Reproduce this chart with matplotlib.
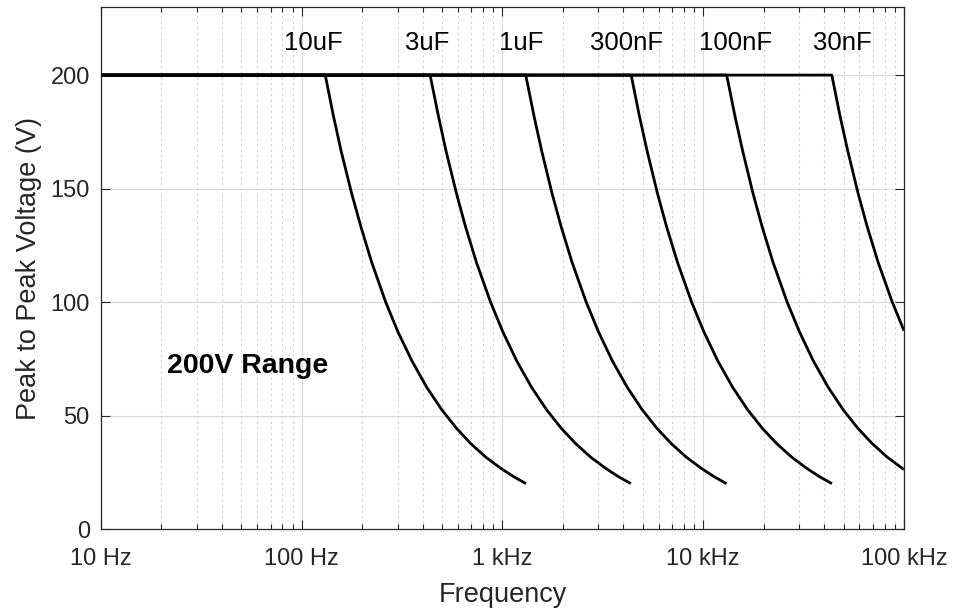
import matplotlib
matplotlib.use('Agg')
import matplotlib.pyplot as plt
from matplotlib.ticker import LogLocator, NullFormatter, FixedLocator

# values (frequency in Hz, peak-to-peak volts)
labels = ['10uF', '3uF', '1uF', '300nF', '100nF', '30nF']

f_10uF = [10, 131, 144, 157, 177, 197, 223, 262, 301, 354, 419, 498, 590, 694, 825, 983, 1140, 1310]
v_10uF = [200, 200, 181.8, 166.7, 148.1, 133.3, 117.6, 100, 87, 74.1, 62.5, 52.6, 44.4, 37.7, 31.7, 26.7, 23, 20]

f_3uF = [10, 436, 480, 523, 589, 654, 741, 872, 1003, 1177, 1395, 1657, 1962, 2311, 2747, 3270, 3793, 4360]
v_3uF = [200, 200, 181.8, 166.7, 148.1, 133.3, 117.6, 100, 87, 74.1, 62.5, 52.6, 44.4, 37.7, 31.7, 26.7, 23, 20]

f_1uF = [10, 1306, 1437, 1567, 1763, 1959, 2220, 2612, 3004, 3526, 4179, 4963, 5877, 6922, 8228, 9795, 11362, 13060]
v_1uF = [200, 200, 181.8, 166.7, 148.1, 133.3, 117.6, 100, 87, 74.1, 62.5, 52.6, 44.4, 37.7, 31.7, 26.7, 23, 20]

f_300nF = [10, 4375, 4813, 5250, 5906, 6563, 7438, 8750, 10063, 11813, 14000, 16625, 19688, 23188, 27563, 32813, 38063, 43750]
v_300nF = [200, 200, 181.8, 166.7, 148.1, 133.3, 117.6, 100, 87, 74.1, 62.5, 52.6, 44.4, 37.7, 31.7, 26.7, 23, 20]

f_100nF = [10, 13090, 14400, 15708, 17672, 19635, 22253, 26180, 30107, 35343, 41888, 49742, 58905, 69377, 82467, 98175, 100000]
v_100nF = [200, 200, 181.8, 166.7, 148.1, 133.3, 117.6, 100, 87, 74.1, 62.5, 52.6, 44.4, 37.7, 31.7, 26.7, 26.2]

f_30nF = [10, 43700, 48070, 52440, 58995, 65550, 74290, 87400, 100000]
v_30nF = [200, 200, 181.8, 166.7, 148.1, 133.3, 117.6, 100, 87.4]

# where the capacitor names sit (Hz)
label_freqs = [114, 424, 1233, 4160, 14500, 49400]

x_ticks = [10, 100, 1000, 10000, 100000]
x_tick_labels = ['10 Hz', '100 Hz', '1 kHz', '10 kHz', '100 kHz']
y_ticks = [0, 50, 100, 150, 200]

plt.rcParams['font.family'] = ['Liberation Sans', 'DejaVu Sans']

dark = '#262626'

fig = plt.figure(figsize=(9.57, 6.14), dpi=100)
ax = fig.add_axes([0.1055, 0.1384, 0.8391, 0.8502])

curves = [(f_10uF, v_10uF), (f_3uF, v_3uF), (f_1uF, v_1uF),
          (f_300nF, v_300nF), (f_100nF, v_100nF), (f_30nF, v_30nF)]
for f, v in curves:
    ax.plot(f, v, color='black', lw=2.0, solid_capstyle='butt',
            solid_joinstyle='round', zorder=3)

for name, fx in zip(labels, label_freqs):
    ax.text(fx, 214, name, ha='center', va='center', fontsize=18.5, color='black')

ax.text(21.3, 71.7, '200V Range', ha='left', va='center', fontsize=20.5,
        fontweight='bold', color='black')

ax.set_xscale('log')
ax.set_xlim(10, 100000)
ax.set_ylim(0, 230)

ax.xaxis.set_major_locator(FixedLocator(x_ticks))
ax.set_xticklabels(x_tick_labels)
ax.xaxis.set_minor_locator(LogLocator(base=10, subs=range(2, 10), numticks=20))
ax.xaxis.set_minor_formatter(NullFormatter())
ax.set_yticks(y_ticks)

ax.grid(True, which='major', color='#d9d9d9', lw=0.8, ls='-')
ax.grid(True, which='minor', axis='x', color='#d0d0d0', lw=0.8, ls=(0, (2, 3)))
ax.set_axisbelow(True)

ax.tick_params(which='both', direction='in', top=True, right=True, colors=dark,
               labelsize=17, width=0.8)
ax.tick_params(which='major', length=6.5)
ax.tick_params(which='minor', length=3.5)
ax.tick_params(axis='y', pad=8)
ax.tick_params(axis='x', pad=14)

for sp in ax.spines.values():
    sp.set_color(dark)
    sp.set_linewidth(0.9)

ax.set_xlabel('Frequency', fontsize=19.5, color=dark, labelpad=8)
ax.set_ylabel('Peak to Peak Voltage (V)', fontsize=19.5, color=dark, labelpad=6)

fig.savefig('out.png', dpi=100)
